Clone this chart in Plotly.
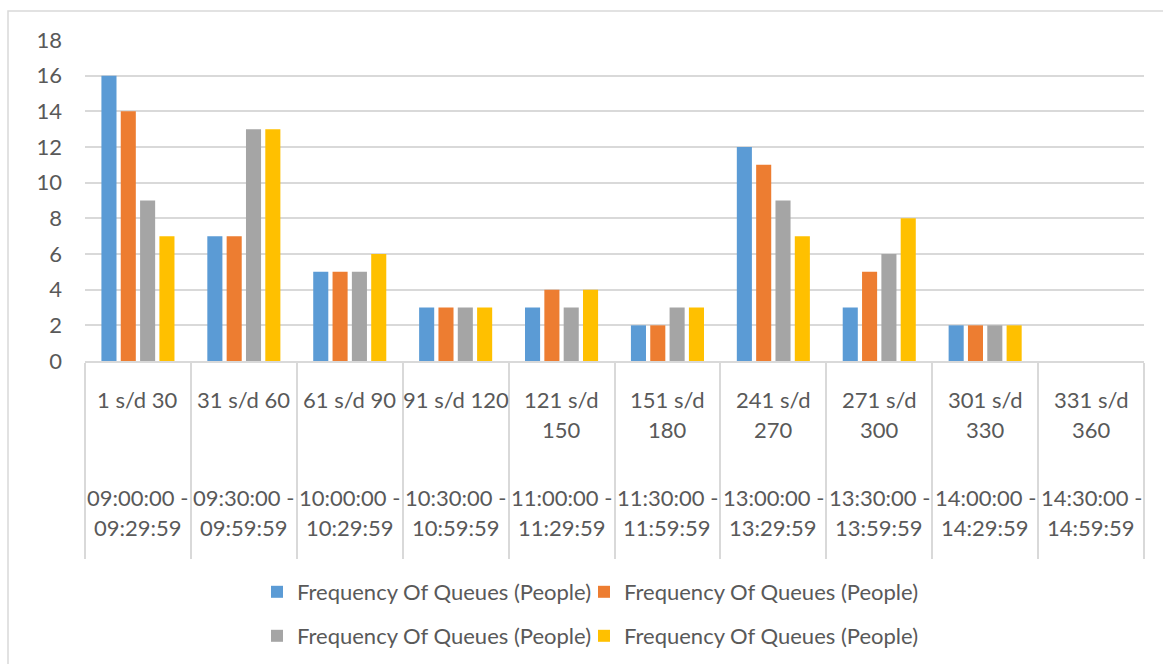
import plotly.graph_objects as go

categories = ["1 s/d 30", "31 s/d 60", "61 s/d 90", "91 s/d 120", "121 s/d<br>150",
              "151 s/d<br>180", "241 s/d<br>270", "271 s/d<br>300", "301 s/d<br>330", "331 s/d<br>360"]
time_labels = ["09:00:00 -<br>09:29:59", "09:30:00 -<br>09:59:59", "10:00:00 -<br>10:29:59",
               "10:30:00 -<br>10:59:59", "11:00:00 -<br>11:29:59", "11:30:00 -<br>11:59:59",
               "13:00:00 -<br>13:29:59", "13:30:00 -<br>13:59:59", "14:00:00 -<br>14:29:59",
               "14:30:00 -<br>14:59:59"]
series_names = ["Frequency Of Queues (People)"] * 4
series1 = [16, 7, 5, 3, 3, 2, 12, 3, 2, 0]
series2 = [14, 7, 5, 3, 4, 2, 11, 5, 2, 0]
series3 = [9, 13, 5, 3, 3, 3, 9, 6, 2, 0]
series4 = [7, 13, 6, 3, 4, 3, 7, 8, 2, 0]
colors = ["#5B9BD5", "#ED7D31", "#A5A5A5", "#FFC000"]

FONT = "Lato, Carlito, Calibri, sans-serif"
TXT = "#595959"
FS = 22
W, H = 1163, 664
L, R, T, B = 85, 1144, 40, 361

def py(Y):
    return (B - Y) / (B - T)

def px(X):
    return (X - L) / (R - L)

legend_ids = ["legend", "legend2", "legend3", "legend4"]
legend_pos = [(257, 592), (584, 592), (257, 636), (584, 636)]

fig = go.Figure()
x_idx = list(range(len(categories)))
for k, (vals, col) in enumerate(zip([series1, series2, series3, series4], colors)):
    fig.add_trace(go.Bar(
        x=x_idx, y=vals, name=series_names[k], marker_color=col,
        marker_line_width=0, legend=legend_ids[k],
    ))

annotations = []
for i, (c, t) in enumerate(zip(categories, time_labels)):
    for j, line in enumerate(c.split("<br>")):
        annotations.append(dict(x=i, y=py(400 + 29.5 * j), xref="x", yref="paper",
                                text=line, showarrow=False, xanchor="center", yanchor="middle",
                                font=dict(family=FONT, size=FS, color=TXT)))
    for j, line in enumerate(t.split("<br>")):
        annotations.append(dict(x=i, y=py(497 + 30 * j), xref="x", yref="paper",
                                text=line, showarrow=False, xanchor="center", yanchor="middle",
                                font=dict(family=FONT, size=FS, color=TXT)))

legends = {}
for lid, (lx, ly) in zip(legend_ids, legend_pos):
    legends[lid] = dict(orientation="h", x=px(lx), xanchor="left", y=py(ly), yanchor="middle",
                        font=dict(family=FONT, size=FS, color=TXT), itemwidth=30,
                        bgcolor="rgba(0,0,0,0)")

fig.update_layout(
    width=W, height=H,
    margin=dict(l=L, r=W - R, t=T, b=H - B, autoexpand=False),
    paper_bgcolor="white", plot_bgcolor="white",
    barmode="group", bargap=0.27, bargroupgap=0.22,
    font=dict(family=FONT, size=FS, color=TXT),
    xaxis=dict(
        type="linear", range=[-0.5, len(categories) - 0.5],
        tickmode="array", tickvals=[i - 0.5 for i in range(len(categories) + 1)],
        ticktext=[""] * (len(categories) + 1),
        ticks="outside", ticklen=196, tickcolor="#D9D9D9", tickwidth=1.5,
        showticklabels=False, showgrid=False, zeroline=False,
        showline=True, linecolor="#D9D9D9", linewidth=1.5,
    ),
    yaxis=dict(
        range=[0, 18], dtick=2, showgrid=True, gridcolor="#D9D9D9", gridwidth=1.5,
        zeroline=False, showline=False, ticks="", ticklabelstandoff=22,
        tickfont=dict(family=FONT, size=FS, color=TXT),
    ),
    annotations=annotations,
    shapes=[dict(type="rect", xref="paper", yref="paper",
                 x0=px(8), x1=px(W + 50), y0=py(H + 50), y1=py(11),
                 line=dict(color="#D9D9D9", width=1.5), layer="below")],
    showlegend=True,
    **legends,
)

fig.write_html("out.html", config={"displayModeBar": False},
               post_script="document.body.style.margin='0px';")
